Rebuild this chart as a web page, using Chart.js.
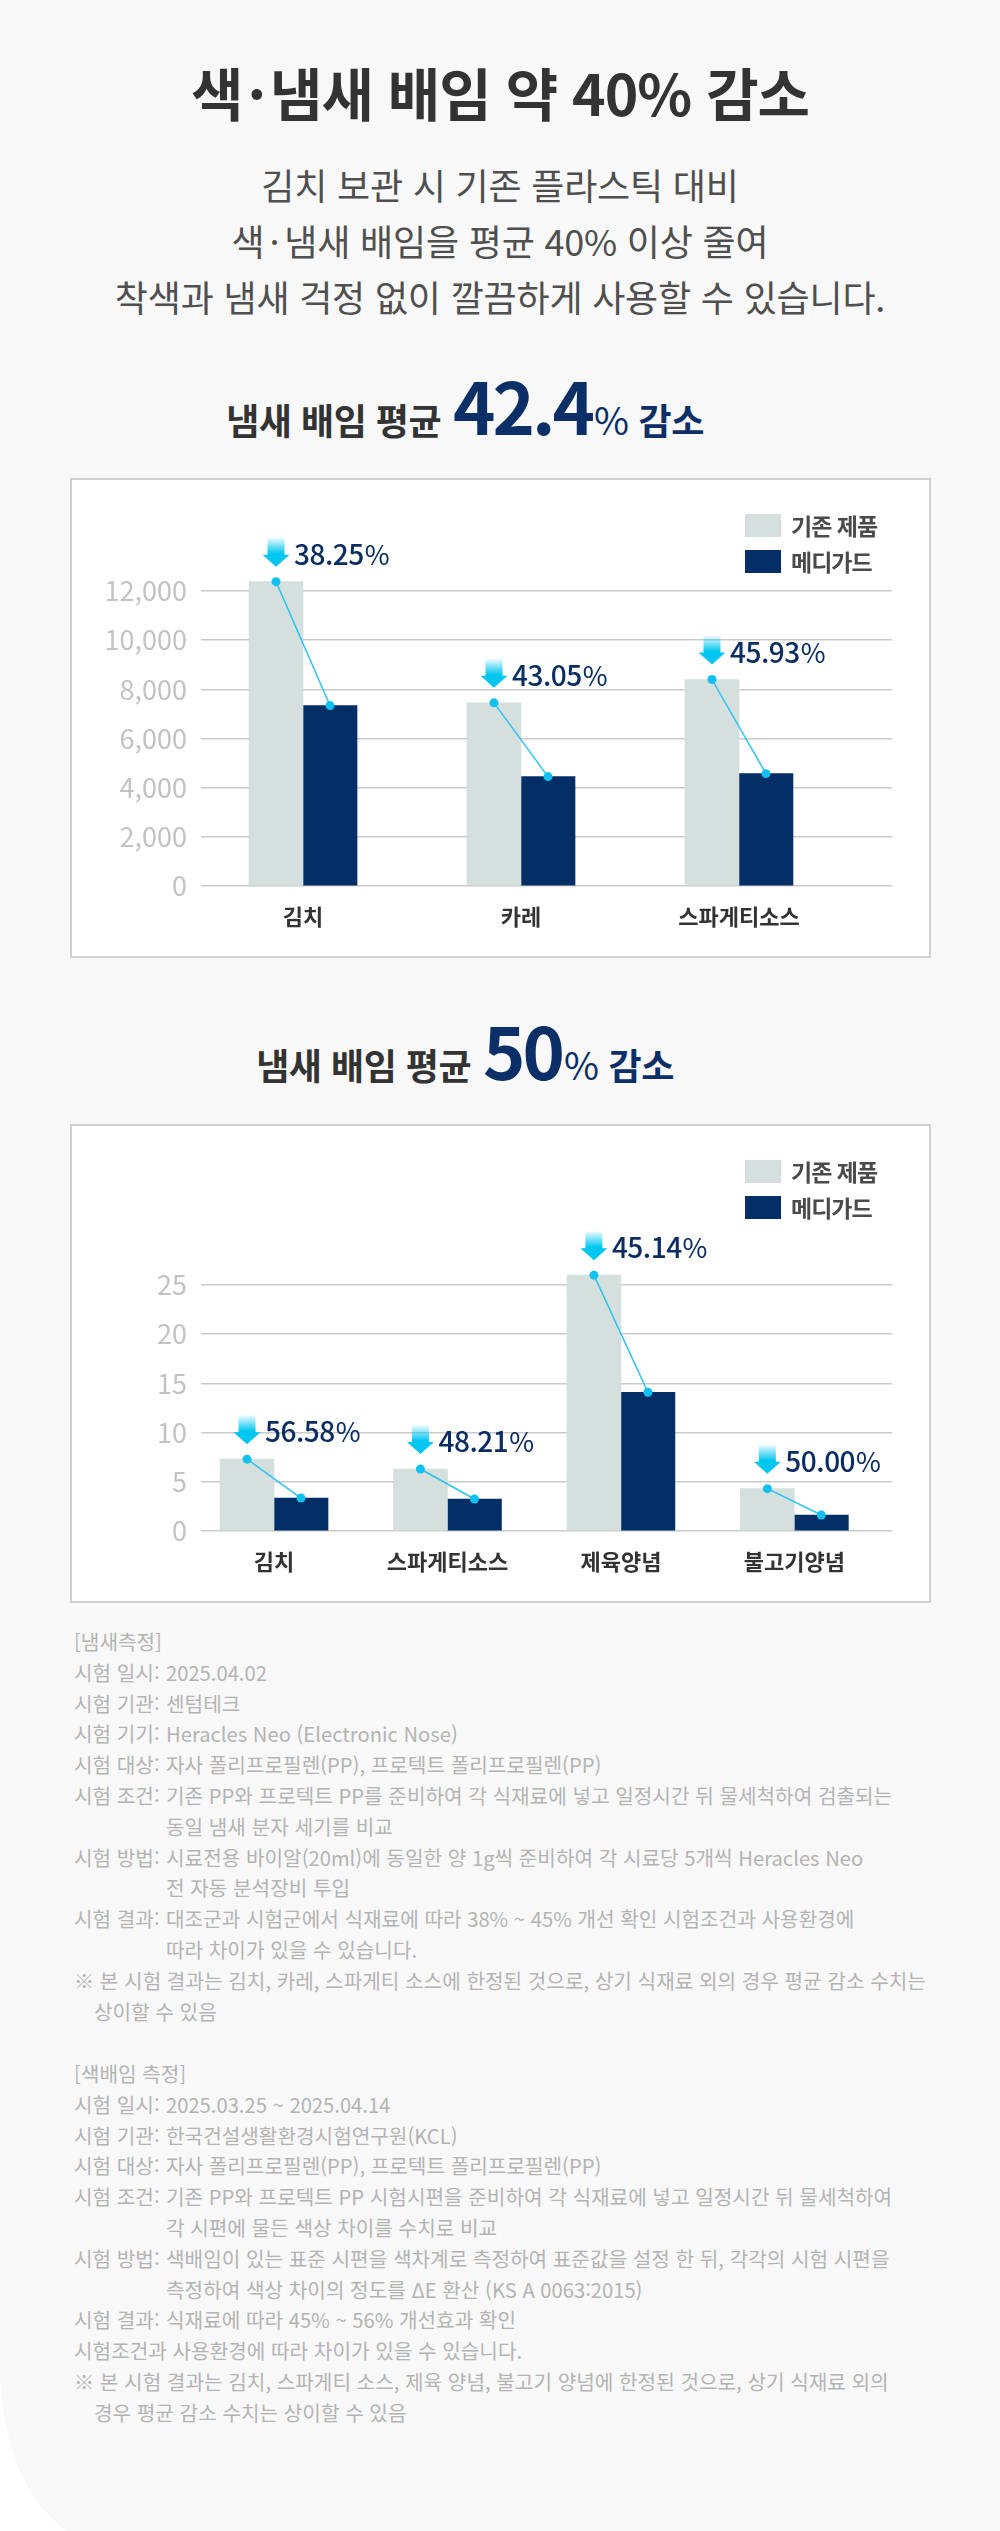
<!DOCTYPE html>
<html lang="ko">
<head>
<meta charset="utf-8">
<script src="https://cdn.jsdelivr.net/npm/chart.js@4.4.1/dist/chart.umd.min.js"></script>
<style>
  html, body { margin: 0; padding: 0; background: #fff; }
  body { width: 1000px; height: 2531px; overflow: hidden; position: relative;
         font-family: "Noto Sans CJK KR", "Noto Sans", sans-serif; }
  #page { position: absolute; left: 0; top: 0; width: 1000px; height: 2545px;
          background: #f8f8f8; border-bottom-left-radius: 110px 175px; }
  .c { position: absolute; left: 0; width: 1000px; text-align: center; white-space: nowrap; }
  #title { top: 61px; font-size: 57px; line-height: 60px; font-weight: 700; color: #333; letter-spacing: -1px; }
  #title .d, #sub .d { margin: 0 5px; }
  #sub { top: 156px; font-size: 36px; line-height: 56px; color: #4f4f4f; letter-spacing: -0.2px; }
  .ct { display: flex; justify-content: center; align-items: baseline; font-weight: 700; color: #333;
        letter-spacing: -0.5px; left: -35px; }
  .ct span { line-height: 1; }
  .ct .s { font-size: 36px; }
  .ct .big { font-size: 72px; color: #0b2f66; margin: 0 2px 0 12px; letter-spacing: -3px; }
  .ct .pc { font-size: 38px; color: #0b2f66; font-weight: 400; margin-right: 10px; }
  .ct .nv { color: #0b2f66; }
  .box { position: absolute; left: 70px; width: 861px; box-sizing: border-box;
         border: 2px solid #cfcfcf; background: #fff; }
  .box canvas { position: absolute; left: 0; top: 0; }
  .lg { position: absolute; left: 673px; top: 27px; }
  .lg div { display: flex; align-items: center; height: 36px; font-size: 23px; font-weight: 700;
            color: #4a4a4a; letter-spacing: -1px; }
  .lg i { display: inline-block; width: 36px; height: 23px; margin-right: 10px; }
  .notes { position: absolute; left: 74px; font-size: 20.2px; line-height: 30.8px; color: #b3b3b3;
           white-space: nowrap; }
  .notes .k { display: inline-block; width: 92px; vertical-align: top; }
  .notes .v { display: inline-block; vertical-align: top; }
  .notes .h { padding-left: 20px; text-indent: -20px; }
</style>
</head>
<body>
<div id="page">
  <div class="c" id="title">색<span class="d">·</span>냄새 배임 약 40% 감소</div>
  <div class="c" id="sub">김치 보관 시 기존 플라스틱 대비<br>색<span class="d">·</span>냄새 배임을 평균 40% 이상 줄여<br>착색과 냄새 걱정 없이 깔끔하게 사용할 수 있습니다.</div>

  <div class="c ct" style="top:368px"><span class="s">냄새 배임 평균</span><span class="big">42.4</span><span class="pc">%</span><span class="s nv">감소</span></div>
  <div class="box" style="top:478px;height:480px">
    <canvas id="smellChart" width="857" height="476"></canvas>
    <div class="lg" id="smellLegend"></div>
  </div>

  <div class="c ct" style="top:1013px"><span class="s">냄새 배임 평균</span><span class="big">50</span><span class="pc">%</span><span class="s nv">감소</span></div>
  <div class="box" style="top:1124px;height:479px">
    <canvas id="colorChart" width="857" height="475"></canvas>
    <div class="lg" id="colorLegend"></div>
  </div>

  <div class="notes" style="top:1627px">
    <div>[냄새측정]</div>
    <div><span class="k">시험 일시:</span><span class="v">2025.04.02</span></div>
    <div><span class="k">시험 기관:</span><span class="v">센텀테크</span></div>
    <div><span class="k">시험 기기:</span><span class="v">Heracles Neo (Electronic Nose)</span></div>
    <div><span class="k">시험 대상:</span><span class="v">자사 폴리프로필렌(PP), 프로텍트 폴리프로필렌(PP)</span></div>
    <div><span class="k">시험 조건:</span><span class="v">기존 PP와 프로텍트 PP를 준비하여 각 식재료에 넣고 일정시간 뒤 물세척하여 검출되는<br>동일 냄새 분자 세기를 비교</span></div>
    <div><span class="k">시험 방법:</span><span class="v">시료전용 바이알(20ml)에 동일한 양 1g씩 준비하여 각 시료당 5개씩 Heracles Neo<br>전 자동 분석장비 투입</span></div>
    <div><span class="k">시험 결과:</span><span class="v">대조군과 시험군에서 식재료에 따라 38% ~ 45% 개선 확인 시험조건과 사용환경에<br>따라 차이가 있을 수 있습니다.</span></div>
    <div class="h">※ 본 시험 결과는 김치, 카레, 스파게티 소스에 한정된 것으로, 상기 식재료 외의 경우 평균 감소 수치는<br>상이할 수 있음</div>
  </div>

  <div class="notes" style="top:2059px">
    <div>[색배임 측정]</div>
    <div><span class="k">시험 일시:</span><span class="v">2025.03.25 ~ 2025.04.14</span></div>
    <div><span class="k">시험 기관:</span><span class="v">한국건설생활환경시험연구원(KCL)</span></div>
    <div><span class="k">시험 대상:</span><span class="v">자사 폴리프로필렌(PP), 프로텍트 폴리프로필렌(PP)</span></div>
    <div><span class="k">시험 조건:</span><span class="v">기존 PP와 프로텍트 PP 시험시편을 준비하여 각 식재료에 넣고 일정시간 뒤 물세척하여<br>각 시편에 물든 색상 차이를 수치로 비교</span></div>
    <div><span class="k">시험 방법:</span><span class="v">색배임이 있는 표준 시편을 색차계로 측정하여 표준값을 설정 한 뒤, 각각의 시험 시편을<br>측정하여 색상 차이의 정도를 ΔE 환산 (KS A 0063:2015)</span></div>
    <div><span class="k">시험 결과:</span><span class="v">식재료에 따라 45% ~ 56% 개선효과 확인</span></div>
    <div>시험조건과 사용환경에 따라 차이가 있을 수 있습니다.</div>
    <div class="h">※ 본 시험 결과는 김치, 스파게티 소스, 제육 양념, 불고기 양념에 한정된 것으로, 상기 식재료 외의<br>경우 평균 감소 수치는 상이할 수 있음</div>
  </div>
</div>

<script>
// 범례 이름
const seriesNames = ['기존 제품', '메디가드'];
const seriesColors = ['#d4dfde', '#042f66'];

// 냄새 배임 차트 (첫 번째)
const smellCats = ['김치', '카레', '스파게티소스'];
const smellBase = [12380, 7450, 8400];
const smellMedi = [7340, 4450, 4570];
const smellPcts = ['38.25', '43.05', '45.93'];
const smellTicks = [0, 2000, 4000, 6000, 8000, 10000, 12000];

// 두 번째 차트
const colorCats = ['김치', '스파게티소스', '제육양념', '불고기양념'];
const colorBase = [7.3, 6.3, 26.0, 4.3];
const colorMedi = [3.35, 3.25, 14.1, 1.63];
const colorPcts = ['56.58', '48.21', '45.14', '50.00'];
const colorTicks = [0, 5, 10, 15, 20, 25];

const FONT = '"Noto Sans CJK KR", "Noto Sans", sans-serif';
Chart.defaults.font.family = FONT;

// 회색 막대 위 화살표 + 감소율, 두 막대를 잇는 선
const dropPlugin = {
  id: 'drop',
  afterDatasetsDraw(chart, args, opts) {
    const ctx = chart.ctx;
    const a = chart.getDatasetMeta(0).data;
    const b = chart.getDatasetMeta(1).data;
    opts.pcts.forEach((p, i) => {
      const g = a[i], m = b[i];
      ctx.save();
      ctx.strokeStyle = '#2ac4ef';
      ctx.lineWidth = 1.5;
      ctx.beginPath();
      ctx.moveTo(g.x, g.y);
      ctx.lineTo(m.x, m.y);
      ctx.stroke();
      ctx.fillStyle = '#10c0ee';
      [g, m].forEach(e => {
        ctx.beginPath();
        ctx.arc(e.x, e.y, 4.5, 0, Math.PI * 2);
        ctx.fill();
      });

      // 화살표
      const tip = g.y - 15, cx = g.x;
      const grad = ctx.createLinearGradient(0, tip - 29, 0, tip);
      grad.addColorStop(0, 'rgba(0,198,240,0.05)');
      grad.addColorStop(0.55, '#00c6f0');
      grad.addColorStop(1, '#00c6f0');
      ctx.fillStyle = grad;
      ctx.beginPath();
      ctx.moveTo(cx - 8.5, tip - 29);
      ctx.lineTo(cx + 8.5, tip - 29);
      ctx.lineTo(cx + 8.5, tip - 12);
      ctx.lineTo(cx + 13.5, tip - 12);
      ctx.lineTo(cx, tip);
      ctx.lineTo(cx - 13.5, tip - 12);
      ctx.lineTo(cx - 8.5, tip - 12);
      ctx.closePath();
      ctx.fill();

      // 감소율 글자
      ctx.fillStyle = '#0b2d62';
      ctx.textBaseline = 'alphabetic';
      ctx.textAlign = 'left';
      ctx.letterSpacing = '-0.5px';
      ctx.font = '500 28px ' + FONT;
      const tx = cx + 18, ty = tip - 2;
      ctx.fillText(p, tx, ty);
      const w = ctx.measureText(p).width;
      ctx.font = '400 27px ' + FONT;
      ctx.fillText('%', tx + w + 1, ty);
      ctx.restore();
    });
  }
};

function makeChart(id, legendId, cats, base, medi, pcts, ticks, xMin, xMax, padTop) {
  const toPts = arr => arr.map((v, i) => ({ x: i, y: v }));
  const chart = new Chart(document.getElementById(id), {
    type: 'bar',
    data: {
      datasets: [
        { label: seriesNames[0], data: toPts(base), backgroundColor: seriesColors[0], barThickness: 54, clip: false },
        { label: seriesNames[1], data: toPts(medi), backgroundColor: seriesColors[1], barThickness: 54, clip: false }
      ]
    },
    options: {
      responsive: false,
      animation: false,
      layout: { padding: { top: padTop, right: 37, left: 0, bottom: 0 } },
      plugins: {
        legend: { display: false },
        tooltip: { enabled: false },
        drop: { pcts: pcts }
      },
      scales: {
        x: {
          type: 'linear',
          offset: false,
          min: xMin,
          max: xMax,
          grid: { display: false, offset: false },
          border: { display: false },
          afterBuildTicks: s => { s.ticks = cats.map((c, i) => ({ value: i })); },
          afterFit: s => { s.height = 70; },
          ticks: {
            autoSkip: false,
            maxRotation: 0,
            padding: 9,
            color: '#333',
            font: { size: 22, weight: 'bold' },
            callback: v => cats[v]
          }
        },
        y: {
          min: 0,
          max: ticks[ticks.length - 1],
          afterBuildTicks: s => { s.ticks = ticks.map(v => ({ value: v })); },
          afterFit: s => { s.width = 129; },
          grid: { color: '#c9c9c9', lineWidth: 1.5, drawTicks: false },
          border: { display: false },
          ticks: {
            padding: 14,
            color: '#c2c2c2',
            font: { size: 27 },
            callback: v => v.toLocaleString('en-US')
          }
        }
      }
    },
    plugins: [dropPlugin]
  });

  // html 범례
  const lg = document.getElementById(legendId);
  chart.data.datasets.forEach(ds => {
    const row = document.createElement('div');
    const sw = document.createElement('i');
    sw.style.background = ds.backgroundColor;
    row.appendChild(sw);
    row.appendChild(document.createTextNode(ds.label));
    lg.appendChild(row);
  });
  return chart;
}

makeChart('smellChart', 'smellLegend', smellCats, smellBase, smellMedi, smellPcts, smellTicks, -0.468, 2.702, 111);
makeChart('colorChart', 'colorLegend', colorCats, colorBase, colorMedi, colorPcts, colorTicks, -0.421, 3.563, 159);
</script>
</body>
</html>
